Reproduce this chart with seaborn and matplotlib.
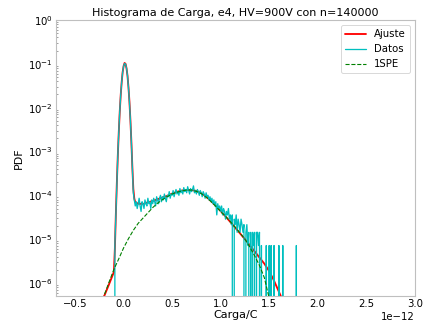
import numpy as np
import pandas as pd
import matplotlib
matplotlib.use("Agg")
import matplotlib.pyplot as plt
import seaborn as sns

# ---------------- data (x in units of 1e-12 C) ----------------
n_total = 140000

# Datos: histogram counts per bin (bin centres every 0.01e-12 from -0.10 to 1.80)
datos_x_start = -0.10
datos_x_step = 0.01
datos_counts = [
    0, 1, 5, 25, 110, 380, 1120, 2700, 5300, 9000,            # -0.10 .. -0.01
    12500, 14200, 13900, 11200, 7600, 4100, 1900, 730, 230, 62,  # 0.00 .. 0.09
    16, 11, 8, 10, 7, 9, 12, 8, 6, 10,                       # 0.10 .. 0.19
    9, 7, 11, 9, 8, 12, 9, 10, 7, 11,                        # 0.20 .. 0.29
    9, 12, 10, 8, 13, 11, 9, 12, 14, 10,                     # 0.30 .. 0.39
    13, 11, 15, 12, 10, 14, 13, 17, 12, 15,                  # 0.40 .. 0.49
    14, 18, 13, 16, 19, 15, 17, 14, 20, 16,                  # 0.50 .. 0.59
    18, 15, 21, 17, 19, 16, 22, 18, 15, 20,                  # 0.60 .. 0.69
    17, 19, 23, 16, 18, 15, 19, 17, 14, 18,                  # 0.70 .. 0.79
    16, 13, 17, 15, 12, 16, 13, 14, 11, 13,                  # 0.80 .. 0.89
    10, 12, 9, 11, 8, 10, 5, 9, 7, 8,                        # 0.90 .. 0.99
    6, 8, 5, 7, 6, 4, 6, 5, 7, 4,                            # 1.00 .. 1.09
    5, 3, 5, 0, 4, 3, 5, 2, 4, 3,                            # 1.10 .. 1.19
    2, 4, 3, 2, 3, 0, 2, 3, 1, 2,                            # 1.20 .. 1.29
    0, 2, 0, 2, 1, 2, 0, 2, 2, 1,                            # 1.30 .. 1.39
    2, 0, 1, 0, 0, 0, 0, 1, 0, 0,                            # 1.40 .. 1.49
    1, 0, 1, 0, 0, 1, 0, 0, 0, 0,                            # 1.50 .. 1.59
    1, 0, 0, 0, 1, 0, 0, 0, 0, 0,                            # 1.60 .. 1.69
    0, 0, 0, 0, 0, 0, 0, 0, 1, 0,                            # 1.70 .. 1.79
    0,                                                       # 1.80
]

# Ajuste (fit): x and log10(PDF)
ajuste_x = [-0.22, -0.20, -0.15, -0.10, -0.09, -0.08, -0.07, -0.06, -0.05, -0.04,
            -0.03, -0.02, -0.01, 0.00, 0.01, 0.02, 0.03, 0.04, 0.05, 0.06,
            0.07, 0.08, 0.09, 0.10, 0.11, 0.12, 0.15, 0.20, 0.25, 0.30,
            0.35, 0.40, 0.45, 0.50, 0.55, 0.60, 0.65, 0.70, 0.75, 0.80,
            0.85, 0.90, 0.95, 1.00, 1.05, 1.10, 1.15, 1.20, 1.25, 1.30,
            1.35, 1.40, 1.45, 1.50, 1.55, 1.60, 1.64]
ajuste_log10 = [-6.40, -6.30, -6.03, -5.75, -5.22, -4.44, -3.74, -3.11, -2.57, -2.10,
                -1.72, -1.42, -1.19, -1.05, -0.98, -1.00, -1.10, -1.27, -1.53, -1.86,
                -2.28, -2.78, -3.35, -3.85, -4.07, -4.16, -4.19, -4.20, -4.16, -4.13,
                -4.09, -4.05, -4.01, -3.96, -3.92, -3.89, -3.88, -3.88, -3.90, -3.95,
                -4.03, -4.13, -4.24, -4.36, -4.48, -4.61, -4.74, -4.87, -5.00, -5.14,
                -5.28, -5.42, -5.56, -5.73, -5.95, -6.20, -6.40]

# 1SPE component: x and log10(PDF)
spe_x = [-0.22, -0.20, -0.15, -0.10, -0.05, 0.00, 0.05, 0.10, 0.15, 0.20,
         0.25, 0.30, 0.35, 0.40, 0.45, 0.50, 0.55, 0.60, 0.65, 0.70,
         0.75, 0.80, 0.85, 0.90, 0.95, 1.00, 1.05, 1.10, 1.15, 1.20,
         1.25, 1.30, 1.35, 1.40, 1.45, 1.50]
spe_log10 = [-6.38, -6.28, -5.98, -5.69, -5.45, -5.20, -4.99, -4.80, -4.64, -4.52,
             -4.40, -4.28, -4.18, -4.10, -4.03, -3.97, -3.93, -3.90, -3.88, -3.88,
             -3.91, -3.96, -4.04, -4.14, -4.25, -4.37, -4.48, -4.60, -4.73, -4.86,
             -5.00, -5.18, -5.38, -5.60, -5.88, -6.35]

title = "Histograma de Carga, e4, HV=900V con n=140000"
xlabel = "Carga/C"
ylabel = "PDF"

# ---------------- build tables ----------------
unit = 1e-12
datos_x = [(datos_x_start + i * datos_x_step) * unit for i in range(len(datos_counts))]
df_datos = pd.DataFrame({"x": datos_x, "y": np.array(datos_counts) / n_total})
df_ajuste = pd.DataFrame({"x": np.array(ajuste_x) * unit, "y": 10.0 ** np.array(ajuste_log10)})
df_spe = pd.DataFrame({"x": np.array(spe_x) * unit, "y": 10.0 ** np.array(spe_log10)})

# ---------------- plot ----------------
sns.set_theme(style="whitegrid", context="notebook")
plt.rcParams["font.family"] = ["DejaVu Sans"]
plt.rcParams["text.color"] = "black"
plt.rcParams["axes.labelcolor"] = "black"
plt.rcParams["xtick.color"] = "black"
plt.rcParams["ytick.color"] = "black"

fig = plt.figure(figsize=(6.4, 4.88), dpi=66.4)
ax = fig.add_axes([0.131, 0.086, 0.845, 0.852])
ax.set_yscale("log")

sns.lineplot(data=df_ajuste, x="x", y="y", ax=ax, color="#ff0000", linewidth=2.0,
             label="Ajuste", estimator=None, sort=False)
sns.lineplot(data=df_datos, x="x", y="y", ax=ax, color="#00bfbf", linewidth=1.4,
             label="Datos", estimator=None, sort=False)
sns.lineplot(data=df_spe, x="x", y="y", ax=ax, color="#008000", linewidth=1.2,
             linestyle="--", label="1SPE", estimator=None, sort=False)

ax.grid(False)
ax.set_xlim(-0.7e-12, 3.0e-12)
ax.set_ylim(5e-7, 1.0)
ax.set_title(title, fontsize=12, pad=4, color="black")
ax.set_xlabel(xlabel, fontsize=12, labelpad=1)
ax.set_ylabel(ylabel, fontsize=12)
ax.tick_params(axis="both", which="major", direction="in", length=3, width=0.8,
               color="0.55", labelcolor="black", labelsize=11, pad=3)
ax.tick_params(axis="y", which="minor", direction="in", length=2, width=0.6,
               color="0.35", left=True)
ax.xaxis.get_offset_text().set_color("black")
for s in ax.spines.values():
    s.set_color("0.75")
    s.set_linewidth(1.2)

leg = ax.legend(loc="upper right", fontsize=11, frameon=True)
for t in leg.get_texts():
    t.set_color("black")

fig.savefig("out.png", dpi=66.4)
